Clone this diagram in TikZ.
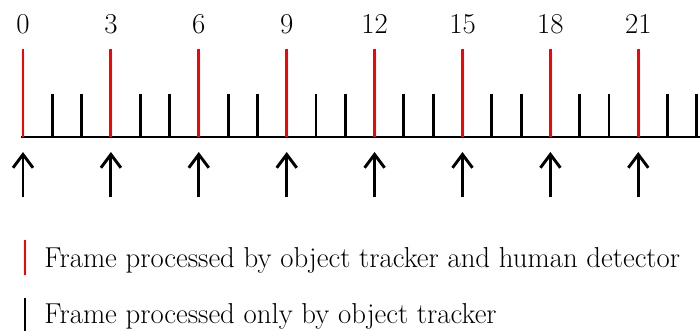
\documentclass[tikz,border=0pt]{standalone}
\usetikzlibrary{arrows.meta}
\definecolor{cRED}{HTML}{FF0000}

\begin{document}
\begin{tikzpicture}[x=0.75pt, y=-0.75pt, font=\rmfamily\fontsize{21.6}{26}\selectfont,
  >={Straight Barb[length=10pt, width=15pt]}, line width=2.2pt,
  fullframe/.style={cRED},
  trackframe/.style={black}]
\useasboundingbox (0,0) rectangle (700,330);
% time axis
\coordinate (axL) at (21,137);
\coordinate (axR) at (702,137);
\draw (axL) -- (axR);
% frames with detector (every third frame)
\foreach \n in {0,3,...,21} {
  \coordinate (top\n) at ({23+29.3*\n},49);
  \coordinate (base\n) at ({23+29.3*\n},137);
  \draw[fullframe] (base\n) -- (top\n);
  \node[anchor=base] (lab\n) at ({23+29.3*\n},33) {\n};
  \coordinate (tail\n) at ({23+29.3*\n},197);
  \coordinate (tip\n) at ({23+29.3*\n},152);
  \draw[->] (tail\n) -- (tip\n);
}
% frames with tracker only
\foreach \n in {1,2,4,5,7,8,10,11,13,14,16,17,19,20,22,23} {
  \coordinate (top\n) at ({23+29.3*\n},94);
  \coordinate (base\n) at ({23+29.3*\n},137);
  \draw[trackframe] (base\n) -- (top\n);
}
% legend
\coordinate (keyA1) at (25,240);
\coordinate (keyA2) at (25,275);
\draw[fullframe] (keyA1) -- (keyA2);
\node[anchor=base west, inner sep=0pt] (keyA) at (43,267) {Frame processed by object tracker and human detector};
\coordinate (keyB1) at (25,298);
\coordinate (keyB2) at (25,331);
\draw[trackframe] (keyB1) -- (keyB2);
\node[anchor=base west, inner sep=0pt] (keyB) at (43,323) {Frame processed only by object tracker};
\end{tikzpicture}
\end{document}
